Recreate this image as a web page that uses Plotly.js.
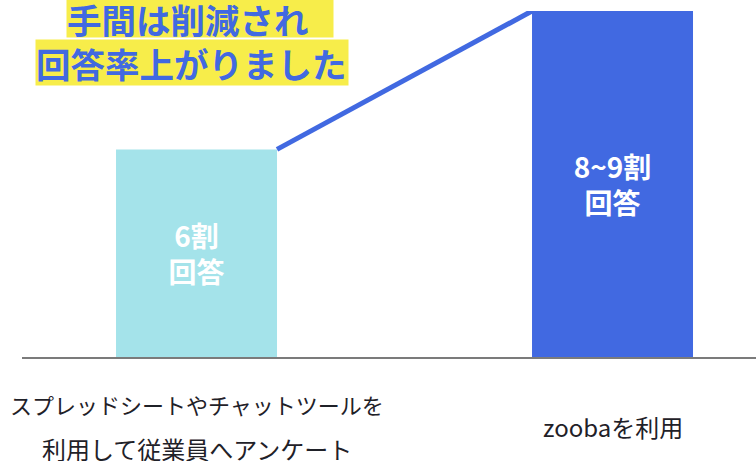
<!DOCTYPE html>
<html>
<head>
<meta charset="utf-8">
<script src="https://cdn.plot.ly/plotly-3.0.1.min.js"></script>
<style>html,body{margin:0;padding:0;background:#fff}#chart{width:756px;height:461px}</style>
</head>
<body>
<div id="chart"></div>
<script>
// ---- data ----
const categoryLines = [
  ['スプレッドシートやチャットツールを', '利用して従業員へアンケート'],
  ['zoobaを利用']
];
const values = [6, 10];
const barLabels = ['6割<br>回答', '8~9割<br>回答'];
const titleLines = ['手間は削減され', '回答率上がりました'];

// ---- styles ----
const barColors = ['#a4e3ea', '#4169e1'];
const blue = '#4169e1';
const yellow = '#f7ed4a';
const jp = '"Noto Sans CJK JP", "Noto Sans", sans-serif';
const barWidth = 0.387;

const W = 756, H = 461;
const margin = {l: 22, r: 0, t: 11, b: 104};
const plotW = W - margin.l - margin.r, plotH = H - margin.t - margin.b;
const px2x = p => (p - margin.l) / plotW;
const px2y = p => (H - margin.b - p) / plotH;

const xIdx = values.map((v, i) => i);

const bars = {
  type: 'bar',
  x: xIdx,
  y: values,
  width: barWidth,
  marker: {color: barColors, line: {width: 0}},
  text: barLabels,
  textposition: 'inside',
  insidetextanchor: 'middle',
  textangle: 0,
  textfont: {family: jp, size: 28, color: '#ffffff', weight: 700},
  hoverinfo: 'skip'
};

const connector = {
  type: 'scatter',
  mode: 'lines',
  x: [xIdx[0] + barWidth / 2, xIdx[1] - barWidth / 2],
  y: [values[0], values[1]],
  line: {color: blue, width: 5},
  cliponaxis: false,
  hoverinfo: 'skip'
};

const annotations = [];
const catFontSizes = [[22, 24], [24]];
categoryLines.forEach((lines, ci) => {
  const n = lines.length;
  lines.forEach((t, li) => {
    annotations.push({
      xref: 'x', yref: 'paper', x: xIdx[ci], y: 0,
      xanchor: 'center', yanchor: 'middle',
      yshift: -69 - (li - (n - 1) / 2) * 45,
      text: t, showarrow: false,
      font: {family: jp, size: catFontSizes[ci][li], color: '#1f2128'}
    });
  });
});

// title lines with highlight
const titleBoxes = [
  {left: 66, top: 0, w: 266, h: 37},
  {left: 35, top: 40, w: 312, h: 45}
];
titleLines.forEach((t, i) => {
  const b = titleBoxes[i];
  annotations.push({
    xref: 'paper', yref: 'paper',
    x: px2x(b.left), y: px2y(b.top + b.h / 2),
    xanchor: 'left', yanchor: 'middle',
    width: b.w, height: b.h, align: 'left', valign: 'middle',
    borderpad: 0, bgcolor: yellow,
    text: t, showarrow: false,
    font: {family: jp, size: 34.5, color: blue, weight: 700}
  });
});

const layout = {
  width: W, height: H,
  margin: margin,
  paper_bgcolor: '#ffffff',
  plot_bgcolor: '#ffffff',
  showlegend: false,
  xaxis: {
    type: 'linear',
    range: [-0.4195, -0.4195 + plotW / 416],
    showgrid: false, zeroline: false,
    showticklabels: false, ticks: '',
    showline: true, linecolor: 'rgba(90,90,90,0.8)', linewidth: 2
  },
  yaxis: {
    range: [0, 10],
    showgrid: false, zeroline: false,
    showticklabels: false, ticks: '', showline: false
  },
  annotations: annotations
};

Plotly.newPlot('chart', [bars, connector], layout, {staticPlot: true, displayModeBar: false});
</script>
</body>
</html>
